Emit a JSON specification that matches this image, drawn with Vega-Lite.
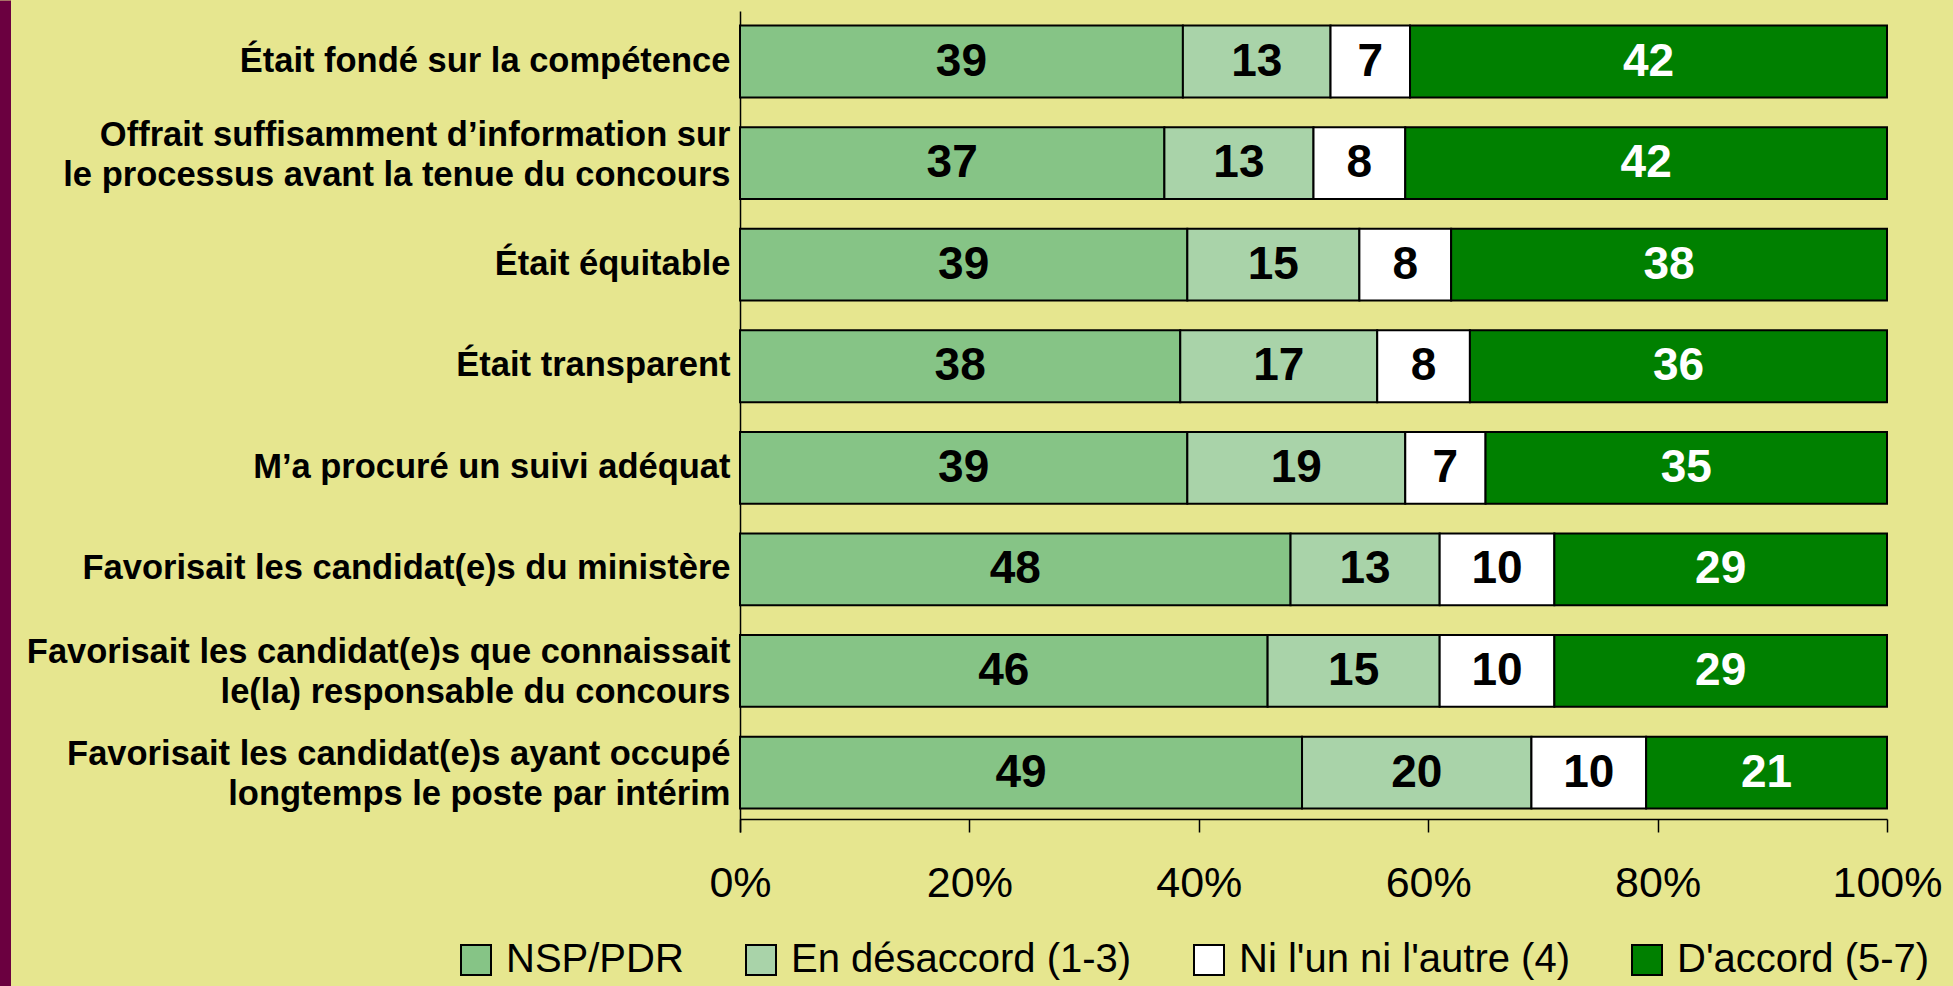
{
  "$schema": "https://vega.github.io/schema/vega-lite/v6.json",
  "autosize": {"type": "none"},
  "width": 1147,
  "height": 986,
  "padding": {"left": 740, "top": 0, "right": 66, "bottom": 0},
  "background": "#e6e68f",
  "config": {"view": {"stroke": null}, "font": "Liberation Sans"},
  "data": {
    "values": [
      {"question": "Était fondé sur la compétence", "reponse": "NSP/PDR", "rang": 1, "pct": 39},
      {"question": "Était fondé sur la compétence", "reponse": "En désaccord (1-3)", "rang": 2, "pct": 13},
      {"question": "Était fondé sur la compétence", "reponse": "Ni l'un ni l'autre (4)", "rang": 3, "pct": 7},
      {"question": "Était fondé sur la compétence", "reponse": "D'accord (5-7)", "rang": 4, "pct": 42},
      {"question": "Offrait suffisamment d’information sur|le processus avant la tenue du concours", "reponse": "NSP/PDR", "rang": 1, "pct": 37},
      {"question": "Offrait suffisamment d’information sur|le processus avant la tenue du concours", "reponse": "En désaccord (1-3)", "rang": 2, "pct": 13},
      {"question": "Offrait suffisamment d’information sur|le processus avant la tenue du concours", "reponse": "Ni l'un ni l'autre (4)", "rang": 3, "pct": 8},
      {"question": "Offrait suffisamment d’information sur|le processus avant la tenue du concours", "reponse": "D'accord (5-7)", "rang": 4, "pct": 42},
      {"question": "Était équitable", "reponse": "NSP/PDR", "rang": 1, "pct": 39},
      {"question": "Était équitable", "reponse": "En désaccord (1-3)", "rang": 2, "pct": 15},
      {"question": "Était équitable", "reponse": "Ni l'un ni l'autre (4)", "rang": 3, "pct": 8},
      {"question": "Était équitable", "reponse": "D'accord (5-7)", "rang": 4, "pct": 38},
      {"question": "Était transparent", "reponse": "NSP/PDR", "rang": 1, "pct": 38},
      {"question": "Était transparent", "reponse": "En désaccord (1-3)", "rang": 2, "pct": 17},
      {"question": "Était transparent", "reponse": "Ni l'un ni l'autre (4)", "rang": 3, "pct": 8},
      {"question": "Était transparent", "reponse": "D'accord (5-7)", "rang": 4, "pct": 36},
      {"question": "M’a procuré un suivi adéquat", "reponse": "NSP/PDR", "rang": 1, "pct": 39},
      {"question": "M’a procuré un suivi adéquat", "reponse": "En désaccord (1-3)", "rang": 2, "pct": 19},
      {"question": "M’a procuré un suivi adéquat", "reponse": "Ni l'un ni l'autre (4)", "rang": 3, "pct": 7},
      {"question": "M’a procuré un suivi adéquat", "reponse": "D'accord (5-7)", "rang": 4, "pct": 35},
      {"question": "Favorisait les candidat(e)s du ministère ", "reponse": "NSP/PDR", "rang": 1, "pct": 48},
      {"question": "Favorisait les candidat(e)s du ministère ", "reponse": "En désaccord (1-3)", "rang": 2, "pct": 13},
      {"question": "Favorisait les candidat(e)s du ministère ", "reponse": "Ni l'un ni l'autre (4)", "rang": 3, "pct": 10},
      {"question": "Favorisait les candidat(e)s du ministère ", "reponse": "D'accord (5-7)", "rang": 4, "pct": 29},
      {"question": "Favorisait les candidat(e)s que connaissait|le(la) responsable du concours", "reponse": "NSP/PDR", "rang": 1, "pct": 46},
      {"question": "Favorisait les candidat(e)s que connaissait|le(la) responsable du concours", "reponse": "En désaccord (1-3)", "rang": 2, "pct": 15},
      {"question": "Favorisait les candidat(e)s que connaissait|le(la) responsable du concours", "reponse": "Ni l'un ni l'autre (4)", "rang": 3, "pct": 10},
      {"question": "Favorisait les candidat(e)s que connaissait|le(la) responsable du concours", "reponse": "D'accord (5-7)", "rang": 4, "pct": 29},
      {"question": "Favorisait les candidat(e)s ayant occupé|longtemps le poste par intérim", "reponse": "NSP/PDR", "rang": 1, "pct": 49},
      {"question": "Favorisait les candidat(e)s ayant occupé|longtemps le poste par intérim", "reponse": "En désaccord (1-3)", "rang": 2, "pct": 20},
      {"question": "Favorisait les candidat(e)s ayant occupé|longtemps le poste par intérim", "reponse": "Ni l'un ni l'autre (4)", "rang": 3, "pct": 10},
      {"question": "Favorisait les candidat(e)s ayant occupé|longtemps le poste par intérim", "reponse": "D'accord (5-7)", "rang": 4, "pct": 21}
    ]
  },
  "encoding": {
    "x": {
      "field": "pct", "type": "quantitative", "stack": "normalize",
      "scale": {"domain": [0, 1], "nice": false},
      "axis": {
        "orient": "bottom", "offset": -167, "title": null, "grid": false,
        "values": [0, 0.2, 0.4, 0.6, 0.8, 1], "format": ".0%",
        "domainColor": "black", "domainWidth": 1.5,
        "tickColor": "black", "tickWidth": 1.5, "tickSize": 13,
        "labelFont": "Liberation Sans", "labelFontSize": 43, "labelColor": "black",
        "labelPadding": 30, "labelFlush": false, "labelOverlap": false, "labelBound": false
      }
    },
    "order": {"field": "rang", "type": "quantitative"}
  },
  "layer": [
    {
      "mark": {"type": "bar", "stroke": "black", "strokeWidth": 2, "opacity": 1},
      "encoding": {
        "y": {
          "field": "question", "type": "nominal", "sort": null,
          "scale": {"paddingInner": 0.293, "paddingOuter": 1.021, "align": 0.126},
          "axis": {
            "orient": "left", "title": null, "ticks": false, "grid": false,
            "domain": true, "domainColor": "black", "domainWidth": 1.5,
            "domainDash": [821, 2000], "domainDashOffset": 2810,
            "labelExpr": "split(datum.value, '|')",
            "labelOffset": {
              "condition": [
                {"test": "indexof(datum.value, 'Offrait') === 0", "value": -27},
                {"test": "indexof(datum.value, '|') >= 0", "value": -18}
              ],
              "value": 0
            },
            "labelFont": "Liberation Sans", "labelFontWeight": "bold", "labelFontSize": 34.5,
            "labelColor": "black", "labelPadding": 10, "labelLineHeight": 40, "labelLimit": 1000
          }
        },
        "color": {
          "field": "reponse", "type": "nominal",
          "scale": {
            "domain": ["NSP/PDR", "En désaccord (1-3)", "Ni l'un ni l'autre (4)", "D'accord (5-7)"],
            "range": ["#86c486", "#a9d3a9", "#ffffff", "#008000"]
          },
          "legend": {
            "orient": "none", "legendX": -284, "legendY": 940, "direction": "horizontal",
            "title": null, "padding": 0, "symbolType": "square", "symbolSize": 900,
            "symbolStrokeColor": "black", "symbolStrokeWidth": 2, "symbolOpacity": 1,
            "labelFont": "Liberation Sans", "labelFontSize": 40, "labelColor": "black",
            "labelOffset": 10, "columnPadding": 57, "labelLimit": 1000
          }
        }
      }
    },
    {
      "mark": {"type": "text", "font": "Liberation Sans", "fontWeight": "bold", "fontSize": 46, "baseline": "middle", "align": "center"},
      "encoding": {
        "y": {
          "field": "question", "type": "nominal", "sort": null,
          "scale": {"paddingInner": 0.293, "paddingOuter": 1.021, "align": 0.126},
          "axis": {
            "orient": "left", "offset": 735, "title": null, "ticks": false, "labels": false, "grid": false,
            "domain": true, "domainColor": "#6b0040", "domainWidth": 11
          }
        },
        "x": {"field": "pct", "type": "quantitative", "stack": "normalize", "bandPosition": 0.5},
        "text": {"field": "pct", "type": "quantitative"},
        "color": {
          "condition": {"test": "datum.reponse === \"D'accord (5-7)\"", "value": "white"},
          "value": "black"
        }
      }
    }
  ],
  "resolve": {"axis": {"y": "independent"}}
}
